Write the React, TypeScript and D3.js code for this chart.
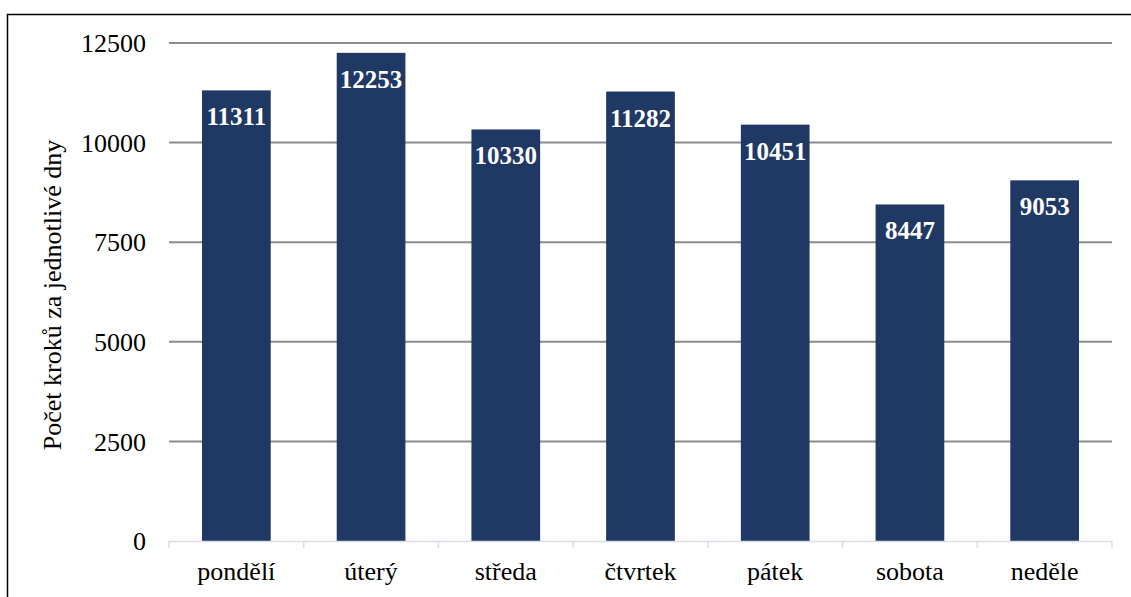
import React from "react";
import * as d3 from "d3";

const days = ["pondělí", "úterý", "středa", "čtvrtek", "pátek", "sobota", "neděle"];
const steps = [11311, 12253, 10330, 11282, 10451, 8447, 9053];
const yTicks = [0, 2500, 5000, 7500, 10000, 12500];
const yTitle = "Počet kroků za jednotlivé dny";

const W = 1131;
const H = 597;
const left = 169;
const right = 1112;
const top = 43;
const bottom = 541;
const font = "'Liberation Serif', 'Times New Roman', serif";
const fs = 26;
const fsLabel = 25;

export default function App() {
  const x = d3.scaleBand<string>().domain(days).range([left, right]).paddingInner(0.49).paddingOuter(0.245);
  const bands = d3.scaleBand<string>().domain(days).range([left, right]);
  const y = d3.scaleLinear().domain([0, 12500]).range([bottom, top]);

  return (
    <svg width={W} height={H} style={{ position: "absolute", left: 0, top: 0, background: "#fff" }}>
      <rect x={7.5} y={14.5} width={W} height={H} fill="#fff" stroke="#000" strokeWidth={1.5} />
      {yTicks.filter((t) => t > 0).map((t) => (
        <line key={t} x1={left} x2={right} y1={y(t)} y2={y(t)} stroke="#8c8c8c" strokeWidth={2} />
      ))}
      {yTicks.map((t) => (
        <text key={t} x={146} y={y(t)} dy="0.35em" textAnchor="end" fontFamily={font} fontSize={fs} fill="#000">
          {t}
        </text>
      ))}
      {days.map((d, i) => (
        <rect key={d} x={x(d)} y={y(steps[i])} width={x.bandwidth()} height={bottom - y(steps[i])} fill="#203864" />
      ))}
      <line x1={left} x2={right} y1={bottom + 0.5} y2={bottom + 0.5} stroke="#d9dde6" strokeWidth={1.5} />
      {[...days.map((d) => bands(d) as number), right].map((px, i) => (
        <line key={i} x1={px} x2={px} y1={bottom} y2={bottom + 7} stroke="#d9dde6" strokeWidth={1.5} />
      ))}
      {days.map((d, i) => (
        <text
          key={d}
          x={(x(d) as number) + x.bandwidth() / 2}
          y={y(steps[i]) + 35}
          textAnchor="middle"
          fontFamily={font}
          fontWeight="bold"
          fontSize={fsLabel}
          fill="#fff"
        >
          {steps[i]}
        </text>
      ))}
      {days.map((d) => (
        <text
          key={d}
          x={(bands(d) as number) + bands.bandwidth() / 2}
          y={580}
          textAnchor="middle"
          fontFamily={font}
          fontSize={fs}
          fill="#000"
        >
          {d}
        </text>
      ))}
      <text
        transform={`translate(61, 295) rotate(-90)`}
        textAnchor="middle"
        fontFamily={font}
        fontSize={fs}
        fill="#000"
      >
        {yTitle}
      </text>
    </svg>
  );
}
